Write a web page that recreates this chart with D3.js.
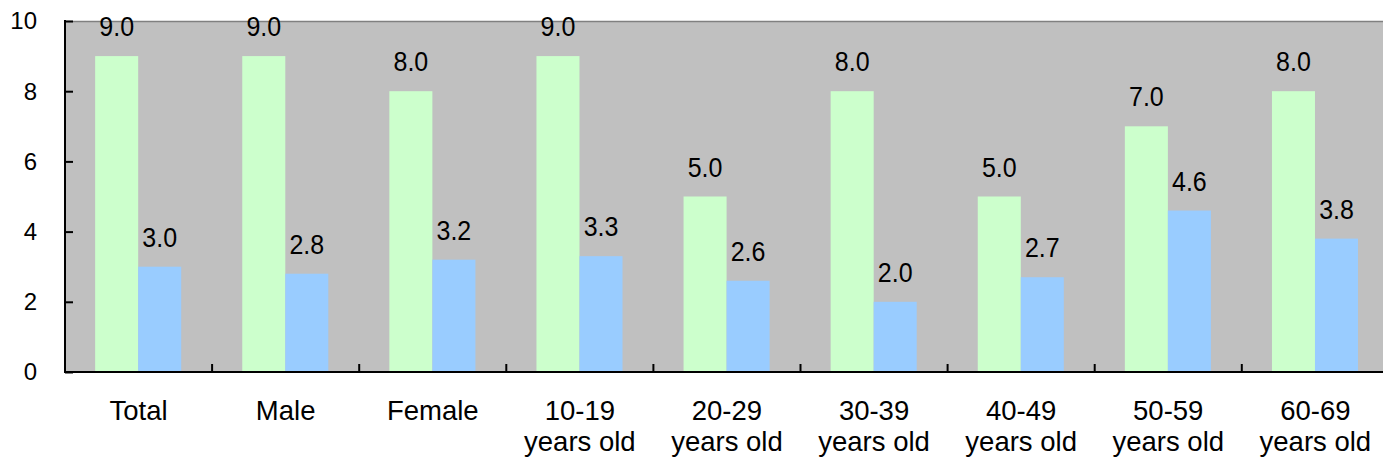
<!DOCTYPE html>
<html>
<head>
<meta charset="utf-8">
<script src="https://cdn.jsdelivr.net/npm/d3@7"></script>
<style>
  html, body { margin: 0; padding: 0; background: #fff; }
  svg { display: block; font-family: "Liberation Sans", Arial, sans-serif; }
</style>
</head>
<body>
<svg id="chart" width="1383" height="461"></svg>
<script>
// Categories (two-line labels split with "\n")
const categories = ["Total", "Male", "Female", "10-19\nyears old", "20-29\nyears old",
  "30-39\nyears old", "40-49\nyears old", "50-59\nyears old", "60-69\nyears old"];
const seriesA = [9.0, 9.0, 8.0, 9.0, 5.0, 8.0, 5.0, 7.0, 8.0];
const seriesB = [3.0, 2.8, 3.2, 3.3, 2.6, 2.0, 2.7, 4.6, 3.8];
const yTicks = [0, 2, 4, 6, 8, 10];
const seriesKeys = ["A", "B"];
const seriesColors = { A: "#CCFFCC", B: "#99CCFF" };

const svg = d3.select("#chart");
const plotLeft = 65, plotTop = 21, plotBottom = 372;
const step = 147.1;
const plotRight = plotLeft + step * categories.length;

const x0 = d3.scaleBand().domain(categories).range([plotLeft, plotRight]).padding(0);
const bw = x0.bandwidth();
const x1 = d3.scaleBand().domain(seriesKeys).range([bw * 0.205, bw * 0.79]).padding(0);
const y = d3.scaleLinear().domain([0, 10]).range([plotBottom, plotTop]);

// Plot area background
svg.append("rect")
  .attr("x", plotLeft).attr("y", plotTop)
  .attr("width", plotRight - plotLeft).attr("height", plotBottom - plotTop)
  .attr("fill", "#C0C0C0");
svg.append("line")
  .attr("x1", plotLeft).attr("x2", plotRight).attr("y1", plotTop + 0.5).attr("y2", plotTop + 0.5)
  .attr("stroke", "#808080").attr("stroke-width", 1.5);

const rows = categories.map((c, i) => ({ cat: c, A: seriesA[i], B: seriesB[i] }));

const groups = svg.append("g").selectAll("g").data(rows).join("g")
  .attr("transform", d => `translate(${x0(d.cat)},0)`);

groups.selectAll("rect")
  .data(d => seriesKeys.map(k => ({ key: k, value: d[k] })))
  .join("rect")
  .attr("x", d => x1(d.key))
  .attr("width", x1.bandwidth())
  .attr("y", d => y(d.value))
  .attr("height", d => plotBottom - y(d.value))
  .attr("fill", d => seriesColors[d.key]);

// Value labels, slightly stretched vertically
groups.selectAll("text.val")
  .data(d => seriesKeys.map(k => ({ key: k, value: d[k] })))
  .join("text")
  .attr("class", "val")
  .attr("transform", d => `translate(${x1(d.key) + x1.bandwidth() / 2},${y(d.value) - 20}) scale(1,1.08)`)
  .attr("text-anchor", "middle")
  .attr("font-size", 25)
  .attr("fill", "#000")
  .text(d => d.value.toFixed(1));

// Y axis (ticks point into the plot)
const yAxis = d3.axisRight(y).tickValues(yTicks).tickSize(8).tickFormat("");
const gy = svg.append("g").attr("transform", `translate(${plotLeft},0)`).call(yAxis);
gy.select(".domain").remove();
gy.selectAll(".tick line").attr("stroke", "#000").attr("stroke-width", 2);
svg.append("line")
  .attr("x1", plotLeft).attr("x2", plotLeft).attr("y1", plotTop - 1).attr("y2", plotBottom + 1)
  .attr("stroke", "#000").attr("stroke-width", 2);
svg.append("g").selectAll("text").data(yTicks).join("text")
  .attr("x", 37).attr("y", d => y(d)).attr("dy", "0.35em")
  .attr("text-anchor", "end").attr("font-size", 24).attr("fill", "#000")
  .text(d => d);

// X axis with category dividers pointing up
const gx = svg.append("g");
gx.append("line")
  .attr("x1", plotLeft - 1).attr("x2", plotRight).attr("y1", plotBottom).attr("y2", plotBottom)
  .attr("stroke", "#000").attr("stroke-width", 2);
gx.selectAll("line.div").data(categories.slice(1)).join("line")
  .attr("class", "div")
  .attr("x1", d => x0(d)).attr("x2", d => x0(d))
  .attr("y1", plotBottom).attr("y2", plotBottom - 8)
  .attr("stroke", "#000").attr("stroke-width", 2);

const catLabels = gx.selectAll("text.cat").data(categories).join("text")
  .attr("class", "cat")
  .attr("text-anchor", "middle")
  .attr("font-size", 27.5)
  .attr("fill", "#000");
catLabels.each(function (d) {
  const lines = d.split("\n");
  const cx = x0(d) + bw / 2;
  d3.select(this).selectAll("tspan").data(lines).join("tspan")
    .attr("x", cx)
    .attr("y", (l, i) => 420 + i * 31)
    .text(l => l);
});
</script>
</body>
</html>
